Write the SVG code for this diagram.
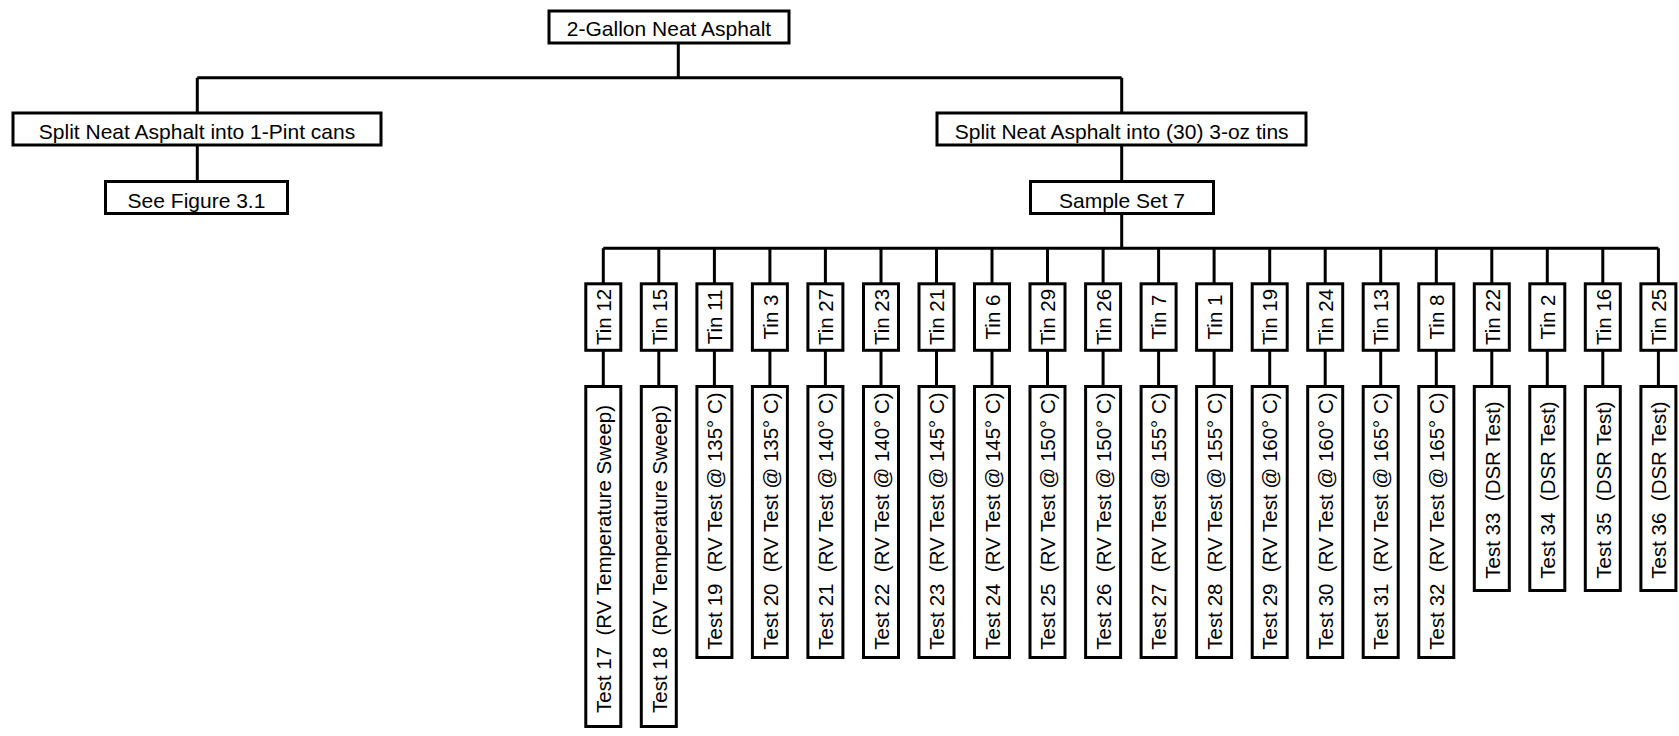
<svg xmlns="http://www.w3.org/2000/svg" width="1679" height="736" viewBox="0 0 1679 736">
<style>
.box{fill:#fff;stroke:#000;stroke-width:3}
.ln{stroke:#000;stroke-width:3;fill:none}
.t{font-family:"Liberation Sans",Arial,sans-serif;font-size:21px;fill:#000;text-anchor:middle}
.v{font-family:"Liberation Sans",Arial,sans-serif;font-size:20.5px;fill:#000;text-anchor:middle;white-space:pre}
</style>
<rect width="1679" height="736" fill="#fff"/>
<g id="connectors" class="ln">
<path d="M678.3 44V77.7M197.3 77.7H1121.7M197.3 77.7V112M1121.7 77.7V112M197.3 146V181M1121.7 146V181M1121.7 214V248.3M603.3 248.3H1658.4"/>
<path d="M603.3 248.3V283M658.8 248.3V283M714.4 248.3V283M769.9 248.3V283M825.4 248.3V283M881 248.3V283M936.5 248.3V283M992 248.3V283M1047.5 248.3V283M1103.1 248.3V283M1158.6 248.3V283M1214.1 248.3V283M1269.7 248.3V283M1325.2 248.3V283M1380.7 248.3V283M1436.3 248.3V283M1491.8 248.3V283M1547.3 248.3V283M1602.8 248.3V283M1658.4 248.3V283"/>
<path d="M603.3 351V386M658.8 351V386M714.4 351V386M769.9 351V386M825.4 351V386M881 351V386M936.5 351V386M992 351V386M1047.5 351V386M1103.1 351V386M1158.6 351V386M1214.1 351V386M1269.7 351V386M1325.2 351V386M1380.7 351V386M1436.3 351V386M1491.8 351V386M1547.3 351V386M1602.8 351V386M1658.4 351V386"/>
</g>
<g id="n-root"><rect class="box" x="549" y="11" width="240" height="32"/><text class="t" x="669" y="36">2-Gallon Neat Asphalt</text></g>
<g id="n-split-pint"><rect class="box" x="13" y="113" width="368" height="32"/><text class="t" x="197" y="139">Split Neat Asphalt into 1-Pint cans</text></g>
<g id="n-fig31"><rect class="box" x="105.5" y="181.5" width="182" height="32"/><text class="t" x="196.5" y="208">See Figure 3.1</text></g>
<g id="n-split-tins"><rect class="box" x="937" y="113" width="369" height="32"/><text class="t" x="1121.7" y="139">Split Neat Asphalt into (30) 3-oz tins</text></g>
<g id="n-set7"><rect class="box" x="1030.5" y="181.5" width="183" height="32"/><text class="t" x="1122" y="208">Sample Set 7</text></g>

<g id="tin12"><rect class="box" x="585.8" y="283.8" width="35" height="66.5"/><text class="v" transform="translate(611,317) rotate(-90)">Tin 12</text></g>
<g id="tin15"><rect class="box" x="641.3" y="283.8" width="35" height="66.5"/><text class="v" transform="translate(666.5,317) rotate(-90)">Tin 15</text></g>
<g id="tin11"><rect class="box" x="696.9" y="283.8" width="35" height="66.5"/><text class="v" transform="translate(722.1,317) rotate(-90)">Tin 11</text></g>
<g id="tin3"><rect class="box" x="752.4" y="283.8" width="35" height="66.5"/><text class="v" transform="translate(777.6,317) rotate(-90)">Tin 3</text></g>
<g id="tin27"><rect class="box" x="807.9" y="283.8" width="35" height="66.5"/><text class="v" transform="translate(833.1,317) rotate(-90)">Tin 27</text></g>
<g id="tin23"><rect class="box" x="863.5" y="283.8" width="35" height="66.5"/><text class="v" transform="translate(888.7,317) rotate(-90)">Tin 23</text></g>
<g id="tin21"><rect class="box" x="919" y="283.8" width="35" height="66.5"/><text class="v" transform="translate(944.2,317) rotate(-90)">Tin 21</text></g>
<g id="tin6"><rect class="box" x="974.5" y="283.8" width="35" height="66.5"/><text class="v" transform="translate(999.7,317) rotate(-90)">Tin 6</text></g>
<g id="tin29"><rect class="box" x="1030" y="283.8" width="35" height="66.5"/><text class="v" transform="translate(1055.2,317) rotate(-90)">Tin 29</text></g>
<g id="tin26"><rect class="box" x="1085.6" y="283.8" width="35" height="66.5"/><text class="v" transform="translate(1110.8,317) rotate(-90)">Tin 26</text></g>
<g id="tin7"><rect class="box" x="1141.1" y="283.8" width="35" height="66.5"/><text class="v" transform="translate(1166.3,317) rotate(-90)">Tin 7</text></g>
<g id="tin1"><rect class="box" x="1196.6" y="283.8" width="35" height="66.5"/><text class="v" transform="translate(1221.8,317) rotate(-90)">Tin 1</text></g>
<g id="tin19"><rect class="box" x="1252.2" y="283.8" width="35" height="66.5"/><text class="v" transform="translate(1277.4,317) rotate(-90)">Tin 19</text></g>
<g id="tin24"><rect class="box" x="1307.7" y="283.8" width="35" height="66.5"/><text class="v" transform="translate(1332.9,317) rotate(-90)">Tin 24</text></g>
<g id="tin13"><rect class="box" x="1363.2" y="283.8" width="35" height="66.5"/><text class="v" transform="translate(1388.4,317) rotate(-90)">Tin 13</text></g>
<g id="tin8"><rect class="box" x="1418.8" y="283.8" width="35" height="66.5"/><text class="v" transform="translate(1444,317) rotate(-90)">Tin 8</text></g>
<g id="tin22"><rect class="box" x="1474.3" y="283.8" width="35" height="66.5"/><text class="v" transform="translate(1499.5,317) rotate(-90)">Tin 22</text></g>
<g id="tin2"><rect class="box" x="1529.8" y="283.8" width="35" height="66.5"/><text class="v" transform="translate(1555,317) rotate(-90)">Tin 2</text></g>
<g id="tin16"><rect class="box" x="1585.3" y="283.8" width="35" height="66.5"/><text class="v" transform="translate(1610.5,317) rotate(-90)">Tin 16</text></g>
<g id="tin25"><rect class="box" x="1640.9" y="283.8" width="35" height="66.5"/><text class="v" transform="translate(1666.1,317) rotate(-90)">Tin 25</text></g>

<g id="test17"><rect class="box" x="585.8" y="386.5" width="35" height="340"/><text class="v" xml:space="preserve" transform="translate(611,559) rotate(-90)">Test 17  (RV Temperature Sweep)</text></g>
<g id="test18"><rect class="box" x="641.3" y="386.5" width="35" height="340"/><text class="v" xml:space="preserve" transform="translate(666.5,559) rotate(-90)">Test 18  (RV Temperature Sweep)</text></g>
<g id="test19"><rect class="box" x="696.9" y="386.5" width="35" height="271"/><text class="v" xml:space="preserve" transform="translate(722.1,521) rotate(-90)">Test 19  (RV Test @ 135° C)</text></g>
<g id="test20"><rect class="box" x="752.4" y="386.5" width="35" height="271"/><text class="v" xml:space="preserve" transform="translate(777.6,521) rotate(-90)">Test 20  (RV Test @ 135° C)</text></g>
<g id="test21"><rect class="box" x="807.9" y="386.5" width="35" height="271"/><text class="v" xml:space="preserve" transform="translate(833.1,521) rotate(-90)">Test 21  (RV Test @ 140° C)</text></g>
<g id="test22"><rect class="box" x="863.5" y="386.5" width="35" height="271"/><text class="v" xml:space="preserve" transform="translate(888.7,521) rotate(-90)">Test 22  (RV Test @ 140° C)</text></g>
<g id="test23"><rect class="box" x="919" y="386.5" width="35" height="271"/><text class="v" xml:space="preserve" transform="translate(944.2,521) rotate(-90)">Test 23  (RV Test @ 145° C)</text></g>
<g id="test24"><rect class="box" x="974.5" y="386.5" width="35" height="271"/><text class="v" xml:space="preserve" transform="translate(999.7,521) rotate(-90)">Test 24  (RV Test @ 145° C)</text></g>
<g id="test25"><rect class="box" x="1030" y="386.5" width="35" height="271"/><text class="v" xml:space="preserve" transform="translate(1055.2,521) rotate(-90)">Test 25  (RV Test @ 150° C)</text></g>
<g id="test26"><rect class="box" x="1085.6" y="386.5" width="35" height="271"/><text class="v" xml:space="preserve" transform="translate(1110.8,521) rotate(-90)">Test 26  (RV Test @ 150° C)</text></g>
<g id="test27"><rect class="box" x="1141.1" y="386.5" width="35" height="271"/><text class="v" xml:space="preserve" transform="translate(1166.3,521) rotate(-90)">Test 27  (RV Test @ 155° C)</text></g>
<g id="test28"><rect class="box" x="1196.6" y="386.5" width="35" height="271"/><text class="v" xml:space="preserve" transform="translate(1221.8,521) rotate(-90)">Test 28  (RV Test @ 155° C)</text></g>
<g id="test29"><rect class="box" x="1252.2" y="386.5" width="35" height="271"/><text class="v" xml:space="preserve" transform="translate(1277.4,521) rotate(-90)">Test 29  (RV Test @ 160° C)</text></g>
<g id="test30"><rect class="box" x="1307.7" y="386.5" width="35" height="271"/><text class="v" xml:space="preserve" transform="translate(1332.9,521) rotate(-90)">Test 30  (RV Test @ 160° C)</text></g>
<g id="test31"><rect class="box" x="1363.2" y="386.5" width="35" height="271"/><text class="v" xml:space="preserve" transform="translate(1388.4,521) rotate(-90)">Test 31  (RV Test @ 165° C)</text></g>
<g id="test32"><rect class="box" x="1418.8" y="386.5" width="35" height="271"/><text class="v" xml:space="preserve" transform="translate(1444,521) rotate(-90)">Test 32  (RV Test @ 165° C)</text></g>
<g id="test33"><rect class="box" x="1474.3" y="386.5" width="35" height="204"/><text class="v" xml:space="preserve" transform="translate(1499.5,490) rotate(-90)">Test 33  (DSR Test)</text></g>
<g id="test34"><rect class="box" x="1529.8" y="386.5" width="35" height="204"/><text class="v" xml:space="preserve" transform="translate(1555,490) rotate(-90)">Test 34  (DSR Test)</text></g>
<g id="test35"><rect class="box" x="1585.3" y="386.5" width="35" height="204"/><text class="v" xml:space="preserve" transform="translate(1610.5,490) rotate(-90)">Test 35  (DSR Test)</text></g>
<g id="test36"><rect class="box" x="1640.9" y="386.5" width="35" height="204"/><text class="v" xml:space="preserve" transform="translate(1666.1,490) rotate(-90)">Test 36  (DSR Test)</text></g>
</svg>
